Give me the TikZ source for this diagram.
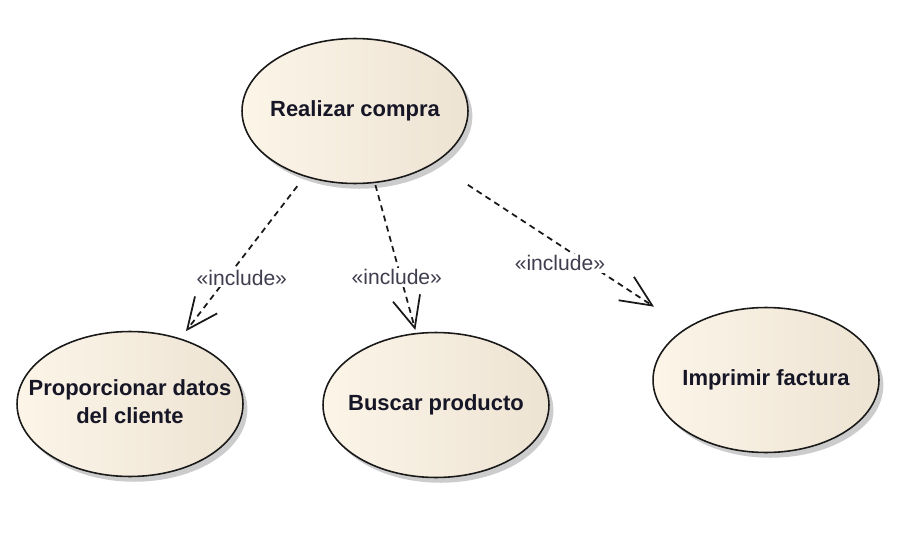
\documentclass[tikz,border=0pt]{standalone}
\usepackage{fontspec}
\setmainfont{Liberation Sans}
\usetikzlibrary{shapes.geometric,arrows.meta,shadows,positioning}

\definecolor{ucleft}{RGB}{252,245,232}
\definecolor{ucright}{RGB}{237,227,211}
\definecolor{uctxt}{RGB}{22,22,38}
\definecolor{incltxt}{RGB}{62,62,78}
% keep the ellipse size fixed, whatever the text width
\newcommand{\uctext}[1]{\makebox[0pt]{\begin{tabular}{@{}c@{}}#1\end{tabular}}}

\begin{document}
\begin{tikzpicture}[x=0.02cm, y=-0.02cm,
    usecase/.style={ellipse, draw=black!90, line width=0.9pt,
        minimum width=4.52cm, minimum height=2.9cm, inner sep=0pt,
        left color=ucleft, right color=ucright,
        drop shadow={shadow xshift=2.5pt, shadow yshift=-3pt, opacity=0.4},
        font=\bfseries\fontsize{12.5}{16}\selectfont, text=uctxt},
    incl/.style={-{Straight Barb[length=0.62cm, width=0.56cm]},
        line width=1pt, dash pattern=on 3.4pt off 2.6pt, black!90},
    incllabel/.style={fill=white, inner sep=1pt, text=incltxt,
        font=\fontsize{12}{14}\selectfont}
]
    \useasboundingbox (0,0) rectangle (912,537);

    % use cases
    \node[usecase] (compra)   at (355,111) {\uctext{Realizar compra}};
    \node[usecase] (datos)    at (130,404) {\uctext{Proporcionar datos\\del cliente}};
    \node[usecase] (buscar)   at (436,405) {\uctext{Buscar producto}};
    \node[usecase] (factura)  at (766,380) {\uctext{Imprimir factura}};

    % include relations
    \draw[incl, shorten <=0.24cm, shorten >=0.18cm] (compra) --
        node[incllabel, pos=0.626, xshift=0.3cm] (incdatos) {«include»} (datos);
    \draw[incl, shorten <=0.04cm, shorten >=0.06cm] (compra) --
        node[incllabel, pos=0.629, xshift=-0.08cm] (incbuscar) {«include»} (buscar);
    \draw[incl, shorten <=0.79cm, shorten >=0.77cm] (compra) --
        node[incllabel, pos=0.609, xshift=-0.56cm] (incfactura) {«include»} (factura);
\end{tikzpicture}
\end{document}
